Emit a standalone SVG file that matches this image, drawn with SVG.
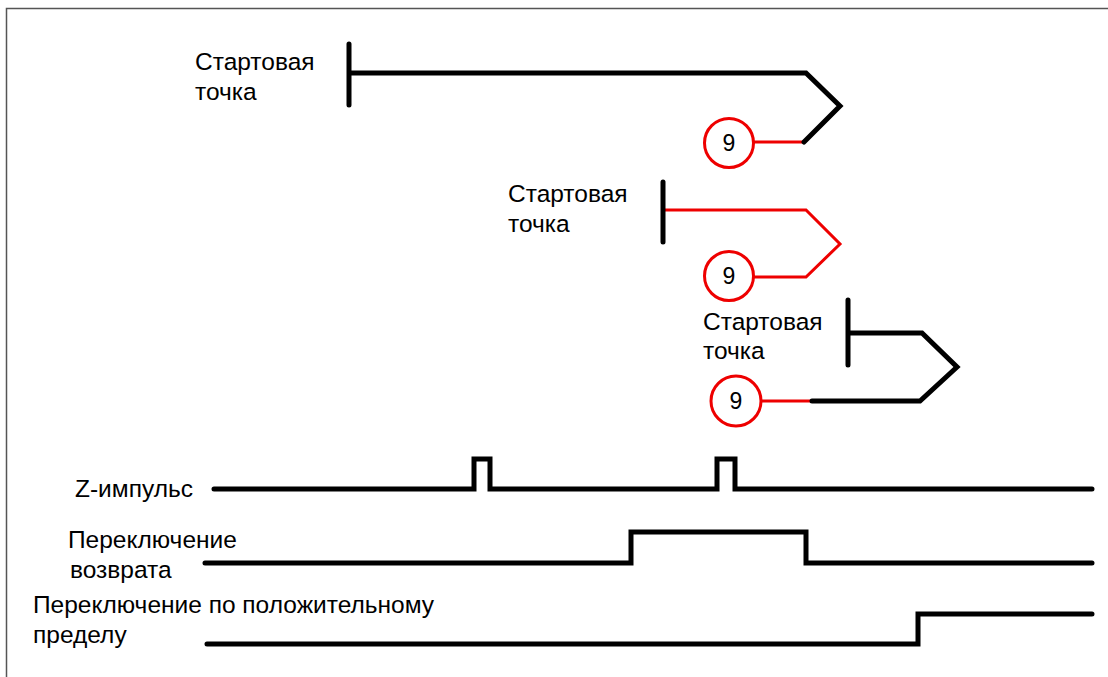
<svg xmlns="http://www.w3.org/2000/svg" width="1108" height="677" viewBox="0 0 1108 677">
<style>
text{font-family:"Liberation Sans",Arial,sans-serif;font-size:24.5px;fill:#000}
.n{font-size:23px;text-anchor:middle}
.blk{fill:none;stroke:#000;stroke-width:5;stroke-linecap:round;stroke-linejoin:miter}
.red{fill:none;stroke:#e00;stroke-width:3}
.circ{fill:#fff;stroke:#e00;stroke-width:3}
.frame{fill:none;stroke:#555;stroke-width:1.5}
</style>
<rect width="1108" height="677" fill="#fff"/>
<path class="frame" d="M6.5,677 V8.5 H1108"/>
<g id="start1">
<text x="195" y="70">Стартовая</text>
<text x="195" y="100">точка</text>
<line class="red" x1="750" y1="142" x2="804" y2="142"/>
<path class="blk" d="M349,44 V105 M349,73 H806 L840,106 L804,142"/>
<circle class="circ" cx="729" cy="143" r="24.5"/>
<text class="n" x="729" y="151">9</text>
</g>
<g id="start2">
<text x="508" y="202">Стартовая</text>
<text x="508" y="232">точка</text>
<path class="red" d="M663,210 H806 L840,244 L806,277 H750"/>
<line class="blk" x1="663" y1="182" x2="663" y2="242"/>
<circle class="circ" cx="729" cy="276" r="24.5"/>
<text class="n" x="729" y="284">9</text>
</g>
<g id="start3">
<text x="703" y="330">Стартовая</text>
<text x="703" y="359">точка</text>
<line class="red" x1="758" y1="401" x2="812" y2="401"/>
<path class="blk" d="M848,300 V365 M848,333 H922 L957,367 L920,401 H812"/>
<circle class="circ" cx="736" cy="401" r="25"/>
<text class="n" x="736" y="409">9</text>
</g>
<g id="z-pulse">
<text x="75" y="497">Z-импульс</text>
</g>
<g id="return-switch">
<text x="68" y="548">Переключение</text>
<text x="70" y="578">возврата</text>
</g>
<g id="limit-switch">
<text x="33" y="613">Переключение по положительному</text>
<text x="33" y="643">пределу</text>
</g>
<g id="connectors">
<path class="blk" d="M214,489 H474 V459 H490 V489 H717 V459 H735 V489 H1092"/>
<path class="blk" d="M205,563 H631 V532 H806 V563 H1092"/>
<path class="blk" d="M207,644 H918 V614 H1092"/>
</g>
</svg>
